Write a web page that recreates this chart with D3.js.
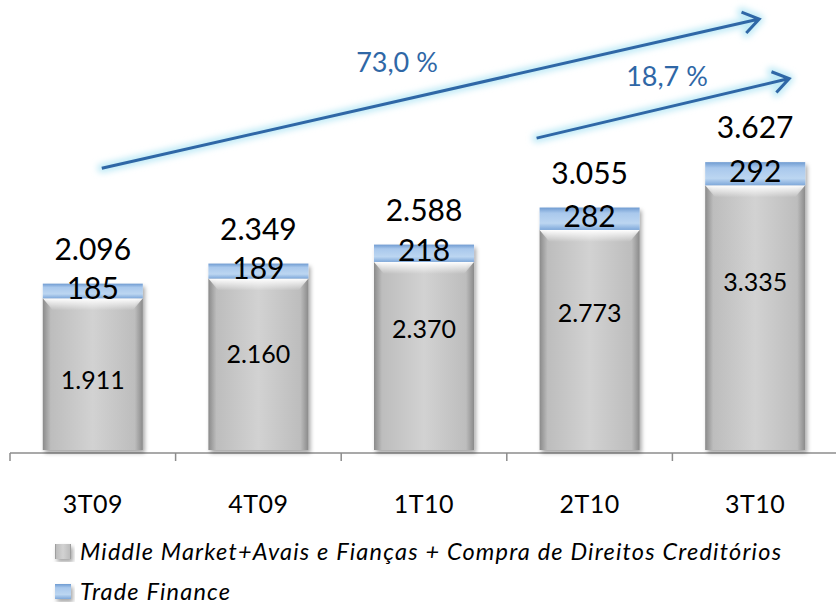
<!DOCTYPE html>
<html>
<head>
<meta charset="utf-8">
<script src="https://cdn.jsdelivr.net/npm/d3@7"></script>
<style>
  body { margin: 0; background: #fff; }
  text { font-family: Lato, "Open Sans", sans-serif; }
</style>
</head>
<body>
<div id="chart"></div>
<script>
var width = 836, height = 614;

// valores por trimestre (R$ milhões)
var data = [
    { q: "3T09", mm: 1911, tf: 185, total: 2096, mmLabel: 890 },
    { q: "4T09", mm: 2160, tf: 189, total: 2349, mmLabel: 1225 },
    { q: "1T10", mm: 2370, tf: 218, total: 2588, mmLabel: 1540 },
    { q: "2T10", mm: 2773, tf: 282, total: 3055, mmLabel: 1740 },
    { q: "3T10", mm: 3335, tf: 292, total: 3627, mmLabel: 2125 }
];

// setas de crescimento
var arrows = [
    { label: "73,0 %", from: "3T09", dx0: 9, v0: 3550, to: "3T10", dx1: 4, v1: 5430, lx: 397, ly: 72 },
    { label: "18,7 %", from: "2T10", dx0: -53, v0: 3930, to: "3T10", dx1: 34, v1: 4680, lx: 667, ly: 86 }
];

var fmt = function(v) { return d3.format(",")(v).replace(/,/g, "."); };

var svg = d3.select("#chart").append("svg")
    .attr("width", width)
    .attr("height", height);

var defs = svg.append("defs");

var gGrey = defs.append("linearGradient").attr("id", "greyGrad")
    .attr("x1", "0").attr("x2", "1").attr("y1", "0").attr("y2", "0");
gGrey.append("stop").attr("offset", "0").attr("stop-color", "#8a8a8a");
gGrey.append("stop").attr("offset", "0.08").attr("stop-color", "#bdbdbd");
gGrey.append("stop").attr("offset", "0.5").attr("stop-color", "#d2d2d2");
gGrey.append("stop").attr("offset", "0.92").attr("stop-color", "#bdbdbd");
gGrey.append("stop").attr("offset", "1").attr("stop-color", "#8a8a8a");

var gBevel = defs.append("linearGradient").attr("id", "bevelGrad")
    .attr("x1", "0").attr("x2", "0").attr("y1", "0").attr("y2", "1");
gBevel.append("stop").attr("offset", "0").attr("stop-color", "#ffffff").attr("stop-opacity", 1);
gBevel.append("stop").attr("offset", "1").attr("stop-color", "#ffffff").attr("stop-opacity", 0);

var gBlue = defs.append("linearGradient").attr("id", "blueGrad")
    .attr("x1", "0").attr("x2", "0").attr("y1", "0").attr("y2", "1");
gBlue.append("stop").attr("offset", "0").attr("stop-color", "#6f9bd1");
gBlue.append("stop").attr("offset", "0.25").attr("stop-color", "#a9c8ec");
gBlue.append("stop").attr("offset", "0.7").attr("stop-color", "#bcd6f1");
gBlue.append("stop").attr("offset", "1").attr("stop-color", "#7ea8da");

var shadow = defs.append("filter").attr("id", "shadow")
    .attr("x", "-20%").attr("y", "-20%").attr("width", "140%").attr("height", "140%");
shadow.append("feDropShadow").attr("dx", 2).attr("dy", 3).attr("stdDeviation", 2)
    .attr("flood-color", "#000").attr("flood-opacity", 0.35);

var glow = defs.append("filter").attr("id", "glow")
    .attr("x", "-20%").attr("y", "-50%").attr("width", "140%").attr("height", "200%");
glow.append("feGaussianBlur").attr("stdDeviation", 3);

var x = d3.scaleBand()
    .domain(data.map(function(d) { return d.q; }))
    .range([10, 838])
    .paddingInner(0.396)
    .paddingOuter(0.198);

var y = d3.scaleLinear()
    .domain([0, 4000])
    .range([450, 450 - 4000 / 12.6]);

var bw = x.bandwidth();

// eixo
var axisY = 453;
svg.append("line")
    .attr("x1", x.range()[0]).attr("x2", x.range()[1])
    .attr("y1", axisY).attr("y2", axisY)
    .style("stroke", "#8c8c8c").style("stroke-width", 1.5);

var tickXs = data.map(function(d) { return x(d.q) - x.step() * x.paddingInner() / 2; });
tickXs.push(x.range()[1]);
svg.selectAll(".tick").data(tickXs).enter().append("line")
    .attr("x1", function(d) { return d; }).attr("x2", function(d) { return d; })
    .attr("y1", axisY).attr("y2", axisY + 8)
    .style("stroke", "#8c8c8c").style("stroke-width", 1.5);

svg.selectAll(".xlab").data(data).enter().append("text")
    .attr("x", function(d) { return x(d.q) + bw / 2; })
    .attr("y", 513)
    .attr("text-anchor", "middle")
    .style("font-size", "25px")
    .style("letter-spacing", "0.5px")
    .style("fill", "#000")
    .text(function(d) { return d.q; });

// barras
var bars = svg.selectAll(".bar").data(data).enter().append("g")
    .attr("class", "bar")
    .attr("filter", "url(#shadow)");

bars.append("rect")
    .attr("x", function(d) { return x(d.q); })
    .attr("y", function(d) { return y(d.mm); })
    .attr("width", bw)
    .attr("height", function(d) { return y(0) - y(d.mm); })
    .style("fill", "url(#greyGrad)");

bars.append("path")
    .attr("d", function(d) {
        var x0 = x(d.q), y0 = y(d.mm);
        return "M" + x0 + "," + y0 + "L" + (x0 + bw) + "," + y0 +
            "L" + (x0 + bw - 10) + "," + (y0 + 12) + "L" + (x0 + 10) + "," + (y0 + 12) + "Z";
    })
    .style("fill", "url(#bevelGrad)");

bars.append("rect")
    .attr("x", function(d) { return x(d.q); })
    .attr("y", function(d) { return y(d.total); })
    .attr("width", bw)
    .attr("height", function(d) { return y(d.mm) - y(d.total); })
    .style("fill", "url(#blueGrad)");

// rótulos
svg.selectAll(".mmlab").data(data).enter().append("text")
    .attr("x", function(d) { return x(d.q) + bw / 2; })
    .attr("y", function(d) { return y(d.mmLabel); })
    .attr("text-anchor", "middle")
    .attr("dominant-baseline", "central")
    .style("font-size", "25px")
    .text(function(d) { return fmt(d.mm); });

svg.selectAll(".tflab").data(data).enter().append("text")
    .attr("x", function(d) { return x(d.q) + bw / 2; })
    .attr("y", function(d) { return y(d.total - d.tf / 2) + 8; })
    .attr("text-anchor", "middle")
    .style("font-size", "30px")
    .text(function(d) { return d.tf; });

svg.selectAll(".totlab").data(data).enter().append("text")
    .attr("x", function(d) { return x(d.q) + bw / 2; })
    .attr("y", function(d) { return y(d.total) - 24; })
    .attr("text-anchor", "middle")
    .style("font-size", "30px")
    .text(function(d) { return fmt(d.total); });

// setas
arrows.forEach(function(a) {
    var x0 = x(a.from) + bw / 2 + a.dx0, y0 = y(a.v0);
    var x1 = x(a.to) + bw / 2 + a.dx1, y1 = y(a.v1);
    var ang = Math.atan2(y1 - y0, x1 - x0);
    var L = 19, spread = 0.6;
    var h1 = [x1 - L * Math.cos(ang - spread), y1 - L * Math.sin(ang - spread)];
    var h2 = [x1 - L * Math.cos(ang + spread), y1 - L * Math.sin(ang + spread)];
    var p = "M" + x0 + "," + y0 + "L" + x1 + "," + y1 +
        "M" + h1[0] + "," + h1[1] + "L" + x1 + "," + y1 + "L" + h2[0] + "," + h2[1];
    svg.append("path").attr("d", p)
        .style("fill", "none").style("stroke", "#bfeaf6").style("stroke-width", 9)
        .style("stroke-linecap", "round").style("stroke-linejoin", "round")
        .attr("filter", "url(#glow)");
    svg.append("path").attr("d", p)
        .style("fill", "none").style("stroke", "#2f67a6").style("stroke-width", 3)
        .style("stroke-linejoin", "miter");
    svg.append("text")
        .attr("x", a.lx).attr("y", a.ly)
        .attr("text-anchor", "middle")
        .style("font-size", "27px")
        .style("fill", "#2f67a6")
        .text(a.label);
});

// legenda
var legend = [
    { name: "Middle Market+Avais e Fianças + Compra de Direitos Creditórios", fill: "url(#greyGrad)", y: 560 },
    { name: "Trade Finance", fill: "url(#blueGrad)", y: 600 }
];
var lg = svg.selectAll(".leg").data(legend).enter().append("g");
lg.append("rect")
    .attr("x", 55).attr("y", function(d) { return d.y - 16; })
    .attr("width", 16).attr("height", 15)
    .style("fill", function(d) { return d.fill; })
    .attr("filter", "url(#shadow)");
lg.append("text")
    .attr("x", 80).attr("y", function(d) { return d.y; })
    .style("font-size", "23.5px")
    .style("font-style", "italic")
    .style("letter-spacing", "1.2px")
    .text(function(d) { return d.name; });
</script>
</body>
</html>
